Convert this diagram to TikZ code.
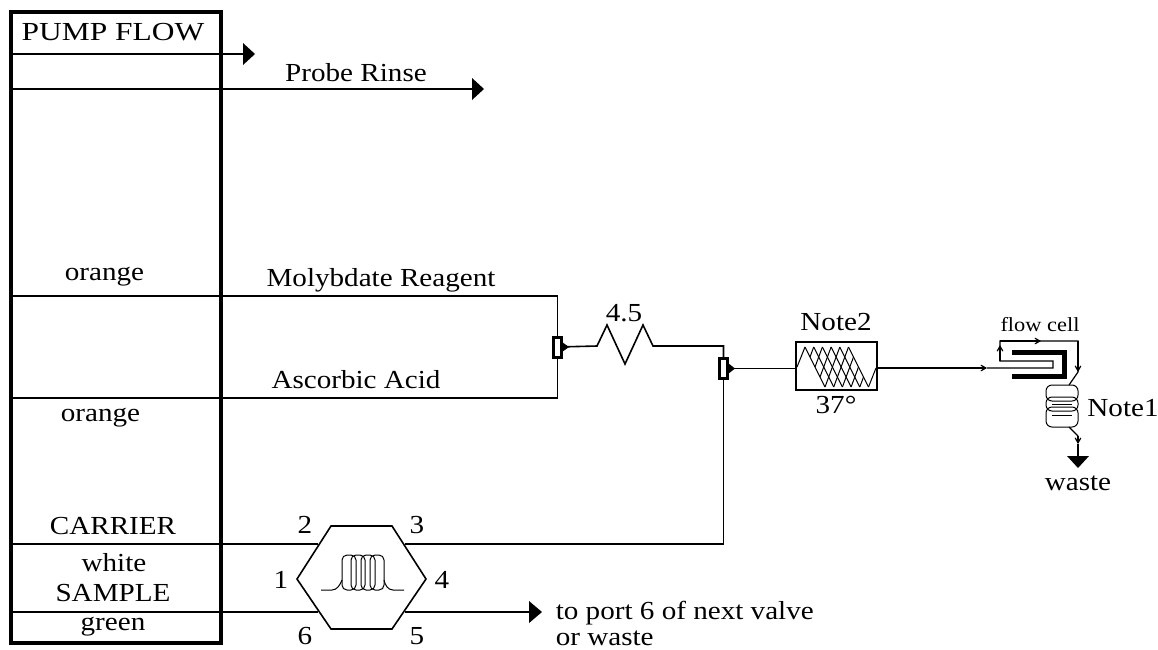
\documentclass[tikz,border=0pt]{standalone}
\usepackage{fontspec}
\setmainfont{Liberation Serif}[FakeStretch=1.12]
\usetikzlibrary{arrows}
\usetikzlibrary{positioning}

\begin{document}
\begin{tikzpicture}[x=1pt,y=-1pt,line width=1.6pt]
	\tikzstyle{vlabel} = [inner sep=0pt,font=\fontsize{26}{28}\selectfont]
	\tikzstyle{vsmall} = [inner sep=0pt,font=\fontsize{20}{22}\selectfont]
	\tikzstyle{vpump} = [draw,line width=3.4pt,inner sep=0pt,minimum width=210pt,minimum height=631pt]
	\tikzstyle{vtee} = [draw,line width=3pt,fill=white,inner sep=0pt,minimum width=8pt,minimum height=20pt]
	\tikzstyle{vbath} = [draw,fill=white,inner sep=0pt,minimum width=81pt,minimum height=48pt]
	\tikzstyle{vthin} = [line width=1pt]
	\tikzstyle{vflow} = [-angle 60,line width=1.2pt]
	\useasboundingbox (0,0) rectangle (1158,649);

	\node[vpump] (pump) at (116,327.5) {};
	\node[vtee] (teea) at (557.5,347) {};
	\node[vtee] (teeb) at (723.5,368.5) {};
	\node[vbath] (bath) at (836.5,366) {};

	\coordinate (rinsea) at (11,54);
	\coordinate (rinseb) at (250,54);
	\coordinate (probea) at (11,89);
	\coordinate (probeb) at (480,89);
	\coordinate (molya) at (11,296);
	\coordinate (molyb) at (557.5,296);
	\coordinate (asca) at (11,398);
	\coordinate (ascb) at (557.5,398);
	\coordinate (carra) at (11,544);
	\coordinate (carrb) at (318,544);
	\coordinate (carrc) at (405,544);
	\coordinate (carrd) at (723.5,544);
	\coordinate (sampa) at (11,612);
	\coordinate (sampb) at (318,612);
	\coordinate (sampc) at (405,612);
	\coordinate (sampd) at (535,612);

	\coordinate (hexa) at (297,579);
	\coordinate (hexb) at (331,526);
	\coordinate (hexc) at (392,526);
	\coordinate (hexd) at (426,579);
	\coordinate (hexe) at (392,629);
	\coordinate (hexf) at (331,629);

	\draw (rinsea) -- (rinseb);
	\draw (probea) -- (probeb);
	\draw (molya) -- (molyb) -- (teea);
	\draw (asca) -- (ascb) -- (teea);
	\draw (carra) -- (carrb);
	\draw (carrc) -- (carrd) -- (teeb);
	\draw (sampa) -- (sampb);
	\draw (sampc) -- (sampd);
	\draw (hexa) -- (hexb) -- (hexc) -- (hexd) -- (hexe) -- (hexf) -- cycle;

	% arrow heads
	\fill (243,43) -- (255,54) -- (243,65) -- cycle;
	\fill (472,78) -- (484,89) -- (472,100) -- cycle;
	\fill (529,601) -- (542,612) -- (529,623) -- cycle;

	% coil in the valve
	\draw[vthin] (321,590) -- (332,590) .. controls (337,590) and (340,585) .. (342,580);
	\draw[vthin] (404,590) -- (393,590) .. controls (388,590) and (385,585) .. (384,580);
	\foreach \x in {342,351,361,370}
		\draw[vthin,rounded corners=5pt] (\x,555) rectangle ++(14,35);

	% reaction coil
	\coordinate (zigs) at (597,346);
	\coordinate (zige) at (653,346);
	\coordinate (zigt) at (723.5,346);
	\draw (teea) -- (zigs) -- (607,325) -- (625,364) -- (643,325) -- (zige) -- (zigt) -- (teeb);
	\fill (562,342) -- (569,347) -- (562,352) -- cycle;
	\fill (728,363) -- (735,368.5) -- (728,374) -- cycle;

	\draw (teeb) -- (teeb -| bath.west);
	\draw[vthin] (797,367) -- (805,347);
	\draw[vthin] (868.5,387) -- (876,368);
	\foreach \u in {0,...,5}
		\draw[vthin] ({805+8.7*\u},347) -- ({825+8.7*\u},387);
	\foreach \u in {0,...,4}
		\foreach \v in {1,...,4}
			\draw[vthin] ({805+8.7*\u+5*\v},{347+10*\v}) -- ({805+8.7*(\u+1)+5*(\v-1)},{347+10*(\v-1)});

	% flow cell
	\coordinate (cella) at (877,368);
	\coordinate (cellb) at (987,368);
	\coordinate (cellc) at (1053,368);
	\coordinate (celld) at (1053,361);
	\coordinate (celle) at (1000,361);
	\coordinate (cellf) at (1000,345);
	\coordinate (cellg) at (1000,341);
	\coordinate (cellh) at (1041,341);
	\coordinate (celli) at (1078,341);
	\coordinate (cellj) at (1078,372);
	\coordinate (cellk) at (1069,385);
	\draw[vflow] (cella) -- (cellb);
	\draw[line width=1.2pt] (cellb) -- (cellc) -- (celld) -- (celle) -- (cellg) -- (celli) -- (cellj) -- (cellk);
	\draw[vflow] (celle) -- (cellf);
	\draw[vflow] (cellg) -- (cellh);
	\draw[vflow] (celli) -- (cellj);
	\draw[line width=4.5pt] (1012,352.5) -- (1064.5,352.5) -- (1064.5,376.5) -- (1012,376.5);

	% second coil
	\draw[vthin,rounded corners=6pt] (1046,385) rectangle (1078,401);
	\draw[vthin,rounded corners=6pt] (1046,397) rectangle (1078,411);
	\draw[vthin,rounded corners=6pt] (1046,407) rectangle (1078,427);
	\draw[vthin] (1052,404) -- (1072,404) (1052,415) -- (1072,415);

	\coordinate (wastea) at (1069,427);
	\coordinate (wasteb) at (1078,436);
	\coordinate (wastec) at (1078,444);
	\coordinate (wasted) at (1078,458);
	\draw[line width=1.2pt] (wastea) -- (wasteb);
	\draw[vflow] (wasteb) -- (wastec);
	\draw[line width=1.6pt] (wastec) -- (wasted);
	\fill (1067,456) -- (1089,456) -- (1078,468) -- cycle;

	% labels
	\node[vlabel,xscale=1.08] (lpump) at (113,32) {PUMP FLOW};
	\node[vlabel] (lrinse) at (356,73) {Probe Rinse};
	\node[vlabel] (lorangea) at (104.5,277) {orange};
	\node[vlabel] (lmoly) at (381,280) {Molybdate Reagent};
	\node[vlabel] (lasc) at (356,380) {Ascorbic Acid};
	\node[vlabel] (lorangeb) at (100.5,418) {orange};
	\node[vlabel] (lcarr) at (113,526) {CARRIER};
	\node[vlabel] (lwhite) at (114,563) {white};
	\node[vlabel] (lsamp) at (113,593) {SAMPLE};
	\node[vlabel] (lgreen) at (113,627) {green};
	\node[vlabel] (ltwo) at (305,525) {2};
	\node[vlabel] (lthree) at (417,525) {3};
	\node[vlabel] (lone) at (281,580) {1};
	\node[vlabel] (lfour) at (442,580) {4};
	\node[vlabel] (lsix) at (305,636) {6};
	\node[vlabel] (lfive) at (417,636) {5};
	\node[vlabel,anchor=west] (lport) at (555,613) {to port 6 of next valve};
	\node[vlabel,anchor=base west] (lwaste) at (555,645) {or waste};
	\node[vlabel] (lcoil) at (624,313) {4.5};
	\node[vlabel] (lnoteb) at (836,322) {Note2};
	\node[vlabel] (ltemp) at (836,405) {37°};
	\node[vsmall] (lcell) at (1040,325) {flow cell};
	\node[vlabel] (lnotea) at (1123,408) {Note1};
	\node[vlabel] (lout) at (1078,483) {waste};

\end{tikzpicture}
\end{document}
